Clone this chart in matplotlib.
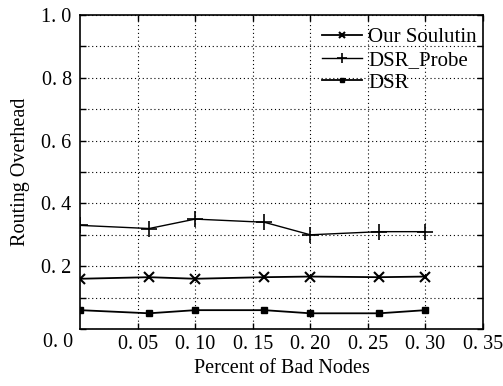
import matplotlib
matplotlib.use("Agg")
import matplotlib.pyplot as plt
from matplotlib.ticker import MultipleLocator

x = [0.0, 0.06, 0.10, 0.16, 0.20, 0.26, 0.30]
ours = [0.16, 0.165, 0.16, 0.165, 0.167, 0.165, 0.167]
probe = [0.33, 0.32, 0.35, 0.34, 0.30, 0.31, 0.31]
dsr = [0.06, 0.05, 0.06, 0.06, 0.05, 0.05, 0.06]
labels = ["Our Soulutin", "DSR_Probe", "DSR"]
xticks = [0.05, 0.10, 0.15, 0.20, 0.25, 0.30, 0.35]
xticklabels = ["0. 05", "0. 10", "0. 15", "0. 20", "0. 25", "0. 30", "0. 35"]
yticks = [0.2, 0.4, 0.6, 0.8, 1.0]
yticklabels = ["0. 2", "0. 4", "0. 6", "0. 8", "1. 0"]

plt.rcParams['font.family'] = ['Liberation Serif', 'DejaVu Serif']
fig = plt.figure(figsize=(5.03, 3.86), dpi=100)
ax = fig.add_axes([80/503, 1-329/386, (483-80)/503, (329-15)/386])

ax.plot(x, ours, color='black', lw=1.3, marker='x', ms=7, mew=1.5, label=labels[0])
ax.plot(x, probe, color='black', lw=1.0, marker='+', ms=12, mew=1.2, label=labels[1])
ax.plot(x, dsr, color='black', lw=1.3, marker='s', ms=5, mew=1.0, label=labels[2])

ax.set_xlim(0, 0.35)
ax.set_ylim(0, 1.0)
ax.set_xticks(xticks)
ax.set_xticklabels(xticklabels, fontsize=14.5)
ax.set_yticks(yticks)
ax.set_yticklabels(yticklabels, fontsize=14.5)
ax.yaxis.set_minor_locator(MultipleLocator(0.1))
ax.tick_params(which='both', direction='in', top=True, right=True, length=4, width=1)
ax.tick_params(axis='x', pad=4)
ax.tick_params(axis='y', pad=6)
ax.grid(True, which='both', axis='y', linestyle=(0, (1, 2.5)), color='black', lw=0.8)
ax.grid(True, which='major', axis='x', linestyle=(0, (1, 2.5)), color='black', lw=0.8)
for s in ax.spines.values():
    s.set_linewidth(1.2)

ax.text(-0.055, -0.044, "0. 0", transform=ax.transAxes, fontsize=14.5, ha='center', va='center')
ax.set_xlabel("Percent of Bad Nodes", fontsize=14.5, labelpad=4)
ax.set_ylabel("Routing Overhead", fontsize=14.5, labelpad=8)

leg = ax.legend(loc='upper right', bbox_to_anchor=(0.985, 0.96), frameon=False, fontsize=15,
                handlelength=1.9, handletextpad=0.3, labelspacing=0.15, borderaxespad=0.0,
                borderpad=0.0, markerscale=0.6)

fig.savefig("out.png", dpi=100)
